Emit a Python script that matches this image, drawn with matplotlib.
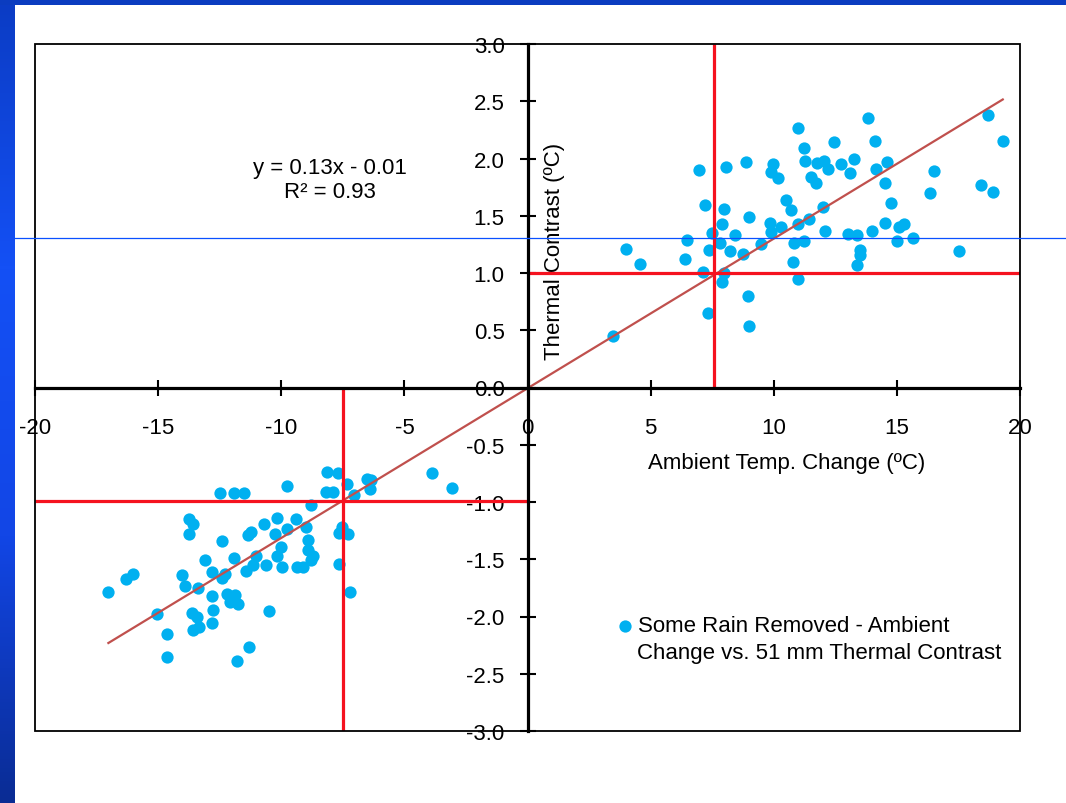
import matplotlib.pyplot as plt
import numpy as np
from matplotlib import transforms
from matplotlib.colors import LinearSegmentedColormap
from matplotlib.lines import Line2D
from matplotlib.patches import Rectangle

plt.rcParams['font.family'] = ['Liberation Sans', 'DejaVu Sans']
plt.rcParams['axes.unicode_minus'] = False

# ambient change > 0 (warming)
pos_x = [3.49, 3.99, 4.58, 6.40, 6.48, 6.98, 7.11, 7.22, 7.32, 7.36, 7.51, 7.82,
         7.88, 7.88, 7.98, 7.99, 8.05, 8.22, 8.44, 8.74, 8.87, 8.94, 9.00, 9.00,
         9.48, 9.85, 9.88, 9.98, 9.88, 10.16, 10.29, 10.50, 10.71, 10.77, 10.81,
         10.98, 10.98, 10.98, 11.21, 11.21, 11.27, 11.44, 11.50, 11.70, 11.74,
         12.05, 11.99, 12.09, 12.22, 12.45, 12.72, 13.03, 13.11, 13.27, 13.38,
         13.50, 13.50, 13.38, 13.83, 13.99, 14.11, 14.16, 14.51, 14.52, 14.60,
         14.75, 15.01, 15.09, 15.29, 15.67, 16.35, 16.51, 17.51, 18.40, 18.89,
         18.70, 19.30]
pos_y = [0.45, 1.21, 1.08, 1.12, 1.29, 1.90, 1.01, 1.59, 0.65, 1.20, 1.35, 1.26,
         1.43, 0.92, 1.00, 1.56, 1.93, 1.19, 1.33, 1.17, 1.97, 0.80, 0.54, 1.49,
         1.25, 1.44, 1.36, 1.95, 1.88, 1.83, 1.40, 1.64, 1.55, 1.10, 1.26,
         1.43, 0.95, 2.27, 1.28, 2.09, 1.98, 1.47, 1.84, 1.79, 1.96,
         1.98, 1.58, 1.37, 1.91, 2.14, 1.95, 1.34, 1.87, 2.00, 1.33,
         1.20, 1.16, 1.07, 2.35, 1.37, 2.15, 1.91, 1.79, 1.44, 1.97,
         1.61, 1.28, 1.40, 1.43, 1.31, 1.70, 1.89, 1.19, 1.77, 1.71,
         2.38, 2.15]

# ambient change < 0 (cooling)
neg_x = [-17.02, -16.32, -16.01, -15.03, -14.63, -14.63, -14.04, -13.91, -13.76,
         -13.57, -13.76, -13.64, -13.43, -13.57, -13.33, -13.37, -13.08, -12.80,
         -12.80, -12.76, -12.83, -12.50, -12.41, -12.41, -12.30, -12.22, -12.08,
         -11.92, -11.88, -11.92, -11.74, -11.81, -11.53, -11.43, -11.30, -11.34,
         -11.24, -11.13, -11.04, -10.69, -10.63, -10.51, -10.25, -10.19, -10.16,
         -10.01, -9.96, -9.77, -9.75, -9.40, -9.36, -9.13, -9.01, -8.90, -8.92,
         -8.81, -8.72, -8.79, -8.20, -8.16, -7.89, -7.68, -7.67, -7.67, -7.55,
         -7.34, -7.30, -7.03, -7.20, -6.53, -6.37, -6.40, -3.89, -3.05]
neg_y = [-1.79, -1.67, -1.63, -1.98, -2.15, -2.35, -1.64, -1.73, -1.15,
         -1.19, -1.28, -1.97, -2.00, -2.12, -2.09, -1.75, -1.51, -1.61,
         -1.82, -1.94, -2.06, -0.92, -1.34, -1.66, -1.63, -1.80, -1.87,
         -0.92, -1.81, -1.49, -1.89, -2.39, -0.92, -1.60, -2.27, -1.29,
         -1.26, -1.55, -1.47, -1.19, -1.55, -1.95, -1.28, -1.14, -1.47,
         -1.39, -1.57, -0.86, -1.24, -1.15, -1.57, -1.57, -1.22, -1.33, -1.42,
         -1.03, -1.47, -1.51, -0.91, -0.74, -0.91, -0.75, -1.27, -1.54, -1.22,
         -0.84, -1.28, -0.94, -1.79, -0.80, -0.81, -0.89, -0.75, -0.88]

fit_slope = 0.1307
fit_icept = -0.007
eq_label = "y = 0.13x - 0.01\nR² = 0.93"

# red crosshairs (mean ambient change / mean contrast)
warm_mean = (7.57, 1.0)
cool_mean = (-7.49, -0.99)
guide_y = 1.31  # stray slide rule

x_ticks = np.arange(-20, 21, 5)
y_ticks = np.arange(-3.0, 3.01, 0.5)
series_label = "Some Rain Removed - Ambient"
series_label_2 = "Change vs. 51 mm Thermal Contrast"

W, H = 1066, 804
fig = plt.figure(figsize=(W / 100, H / 100), dpi=100)

# slide background: top bar + left gradient bar
fig.add_artist(Rectangle((0, 1 - 6 / H), 1, 6 / H, transform=fig.transFigure,
                         color="#0b3cc0", lw=0))
band = fig.add_axes([0, 0, 15 / W, 1])
cmap = LinearSegmentedColormap.from_list(
    "band", ["#0b3cc4", "#1450f5", "#1246e6", "#0a2c94"])
band.imshow(np.linspace(0, 1, 256).reshape(-1, 1), aspect="auto", cmap=cmap)
band.axis("off")

ax = fig.add_axes([35 / W, 1 - 732 / H, 985 / W, 687 / H])
ax.set_xlim(-20, 20)
ax.set_ylim(-3, 3)

xs = np.concatenate([neg_x, pos_x])
ys = np.concatenate([neg_y, pos_y])
ax.scatter(xs, ys, s=78, color="#00b0f0", lw=0, zorder=3, label=series_label)

xf = np.array([xs.min(), xs.max()])
ax.plot(xf, fit_slope * xf + fit_icept, color="#c0504d", lw=1.6, zorder=4)

red = "#f5121f"
ax.vlines(warm_mean[0], 0, 3, color=red, lw=2.3, zorder=5)
ax.hlines(warm_mean[1], 0, 20, color=red, lw=2.3, zorder=5)
ax.vlines(cool_mean[0], -3, 0, color=red, lw=2.3, zorder=5)
ax.hlines(cool_mean[1], -20, 0, color=red, lw=2.3, zorder=5)

# axes cross at zero, outer frame
for side in ("top", "right"):
    ax.spines[side].set_visible(False)
for side in ("left", "bottom"):
    ax.spines[side].set_position(("data", 0))
    ax.spines[side].set_linewidth(2.3)
    ax.spines[side].set_zorder(6)
ax.add_patch(Rectangle((0, 0), 1, 1, transform=ax.transAxes, fill=False,
                       lw=1.3, ec="black", clip_on=False, zorder=7))

ax.set_xticks(x_ticks)
ax.set_yticks(y_ticks)
ax.set_yticklabels([f"{v:.1f}" for v in y_ticks])
ax.tick_params(direction="inout", length=11, width=1.5, labelsize=16)
ax.tick_params(axis="x", pad=16)
ax.tick_params(axis="y", pad=11)

ax.text(10.54, -0.655, "Ambient Temp. Change (ºC)", fontsize=16,
        ha="center", va="center")
ax.text(1.08, 1.20, "Thermal Contrast (ºC)", fontsize=16, rotation=90,
        ha="center", va="center")
ax.text(-8.02, 1.82, eq_label, fontsize=16, ha="center", va="center",
        linespacing=1.2)

ax.legend(loc="center left", bbox_to_anchor=(616 / W, 1 - 627 / H),
          bbox_transform=fig.transFigure, frameon=False, fontsize=16,
          handlelength=0.8, handletextpad=0.2, borderpad=0, borderaxespad=0,
          markerscale=1.0)
ax.text(4.45, -2.316, series_label_2, fontsize=16, ha="left", va="center")

# thin blue rule across the slide
tr = transforms.blended_transform_factory(fig.transFigure, ax.transData)
fig.add_artist(Line2D([15 / W, 1], [guide_y, guide_y], transform=tr,
                      color="#0a50ff", lw=0.9, zorder=8))

fig.savefig("out.png", dpi=100)
